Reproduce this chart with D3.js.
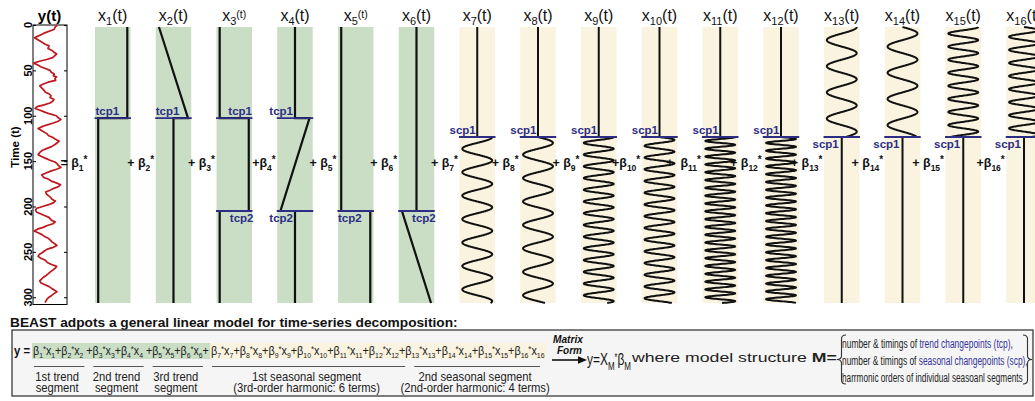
<!DOCTYPE html>
<html>
<head>
<meta charset="utf-8">
<script src="https://cdn.jsdelivr.net/npm/d3@7"></script>
<style>
html,body{margin:0;padding:0;background:#fff;}
svg{display:block;}
text{white-space:pre;}
</style>
</head>
<body>
<svg id="chart" width="1035" height="401"></svg>
<script>
// ================= DATA =================
const timeTicks = [0, 50, 100, 150, 200, 250, 300];
const obsTime = [0,2,5,9,12,14,16,18,21,23,26,28,30,32,34,36,38,40,42,44,46,48,50,52,54,56,57,59,61,63,65,67,69,72,74,76,78,80,82,84,86,88,90,92,94,96,98,100,102,104,106,108,110,112,114,116,120,122,124,126,128,130,132,134,136,138,140,143,145,147,149,151,153,155,157,159,161,163,165,168,170,172,174,176,178,180,182,184,186,188,190,192,194,196,198,200,202,204,206,208,210,212,215,217,219,221,223,225,227,229,231,233,235,237,239,241,243,245,247,249,251,253,255,257,259,262,264,266,268,270,272,274,276,278,280,282,284,286,288,290,292,294,296,298,300,302,304,306];
const obsValue = [7.2,6.6,6.2,3.2,1.5,0.3,1.2,2.1,3.4,4.7,4.4,5.6,6.2,7.0,6.4,5.8,4.0,1.8,0.1,1.3,2.2,3.6,5.0,5.4,6.3,6.0,7.0,6.5,6.7,4.4,3.0,1.9,2.4,3.2,3.6,4.8,5.3,5.0,6.2,5.8,5.0,3.2,1.1,0.5,2.0,3.4,5.0,6.9,7.4,8.3,7.5,6.0,4.2,2.6,1.4,2.3,4.1,4.6,5.9,6.7,7.8,7.1,6.4,5.5,4.1,2.7,2.0,1.4,2.4,3.7,5.0,6.5,7.2,7.6,8.3,7.0,5.2,3.8,2.5,3.1,4.6,5.4,6.9,8.2,7.6,6.2,5.0,3.7,3.9,4.5,5.2,5.6,6.6,6.0,4.6,2.8,1.0,0.6,0.9,2.1,3.3,4.7,5.4,6.6,5.9,4.2,2.9,1.2,0.2,1.4,2.6,3.3,4.5,5.1,5.6,6.4,7.1,6.0,4.2,3.3,2.6,1.7,1.4,2.2,3.5,4.3,5.5,7.0,6.6,5.9,5.1,4.5,3.8,3.0,2.4,1.9,2.2,3.3,4.6,5.4,6.3,7.1,6.2,5.5,4.7,4.1,3.8,3.5];

const basisIds = [1,2,3,4,5,6,7,8,9,10,11,12,13,14,15,16];
const T_END = 306;
const trendChangepoints = [101, 204];      // tcp1, tcp2
const seasonalChangepoints = [122];        // scp1
const tcp1 = trendChangepoints[0], tcp2 = trendChangepoints[1], scp1 = seasonalChangepoints[0];

// trend basis functions x1..x6 as [time, level] vertices (level -1..1)
const trendBasis = [
  [[0,1],[tcp1,1],[tcp1,-1],[T_END,-1]],
  [[0,-1],[tcp1,1],[tcp1,0],[T_END,0]],
  [[0,-1],[tcp1,-1],[tcp1,1],[tcp2,1],[tcp2,-1],[T_END,-1]],
  [[0,0],[tcp1,0],[tcp1,1],[tcp2,-1],[tcp2,0],[T_END,0]],
  [[0,-1],[tcp2,-1],[tcp2,1],[T_END,1]],
  [[0,0],[tcp2,0],[tcp2,-1],[T_END,1]]
];
const trendBasisCps = [[0],[0],[0,1],[0,1],[1],[1]];

// seasonal basis functions x7..x16
const seasonalOrder = [1,1,2,2,3,3,1,1,2,2];
const seasonalFunc = ["cos","sin","cos","sin","cos","sin","cos","sin","cos","sin"];
const seasonalSegment = ["after","after","after","after","after","after","before","before","before","before"];
const seasonalPeriod = {after: 26, before: 29};

const seriesTitle = "y(t)";
const axisTitle = "Time (t)";
const betaPrefix = ["= ","+ ","+ ","+","+ ","+ ","+ ","+ ","+ ","+","+  ","+ ","+ ","+ ","+ ","+"];
const eqSeparators = ["+"," +","+"," +","+","+","+","+","+","+","+","+","+","+","+",""];
const segFrom = [1,3,5,7,13];
const segTo = [2,4,6,12,16];
const segLine1 = ["1st trend","2nd trend","3rd trend","1st seasonal segment","2nd seasonal segment"];
const segLine2 = ["segment","segment","segment","(3rd-order harmonic: 6 terms)","(2nd-order harmonic: 4 terms)"];
const headline = "BEAST adpots a general linear model for time-series decomposition:";
const structLinePre = ["number & timings of ","number & timings of ","harrmonic orders of individual seasoanl segments"];
const structLineBlue = ["trend changepoints (tcp)","seasonal changepoints (scp)",""];
const structLinePost = [",",",",""];
const structLineWidth = [171, 186, 181];

// ================= STYLE / LAYOUT =================
const FONT = "'Liberation Sans', Arial, Helvetica, sans-serif";
const NAVY = "#2d2d85";
const GREEN = "#c9dec5";
const CREAM = "#f9f3df";
const RED = "#c0161e";

const svg = d3.select("#chart").style("font-family", FONT);

function addRuns(text, runs) {
  let cur = 0;
  runs.forEach(r => {
    const ts = text.append("tspan").attr("dy", (r.b - cur).toFixed(2)).attr("font-size", r.fs).text(r.s);
    if (r.fill) ts.attr("fill", r.fill);
    if (r.fw) ts.attr("font-weight", r.fw);
    if (r.fst) ts.attr("font-style", r.fst);
    cur = r.b;
  });
  return text;
}
function fit(text, left, baseline, width) {
  text.attr("x", 0).attr("y", 0).attr("text-anchor", "start");
  const w = text.node().getComputedTextLength();
  text.attr("transform", `translate(${left},${baseline}) scale(${(width / w).toFixed(4)},1)`);
}
function squeeze(text, x, baseline, sx, anchor) {
  text.attr("x", 0).attr("y", 0).attr("text-anchor", anchor)
      .attr("transform", `translate(${x},${baseline}) scale(${sx},1)`);
}

// ================= SCALES =================
const band = d3.scaleBand().domain(basisIds).range([95, 1041.75]).paddingInner(0.416).paddingOuter(0);
const tY = d3.scaleLinear().domain([0, T_END]).range([27, 303]);
const axY = d3.scaleLinear().domain([0, 308]).range([25, 304.5]);
const obsX = d3.scaleLinear().domain([0, 10]).range([33.5, 66.5]);

// ================= y(t) PANEL =================
svg.append("rect").attr("x", 33).attr("y", axY(0)).attr("width", 34).attr("height", axY(308) - axY(0))
   .attr("fill", "#fff").attr("stroke", "#000").attr("stroke-width", 1);
const gl = svg.append("g").attr("transform", "translate(33,0)")
   .call(d3.axisLeft(axY).tickValues(timeTicks).tickSizeInner(-3).tickSizeOuter(0).tickFormat(""));
gl.select(".domain").remove();
const gr = svg.append("g").attr("transform", "translate(67,0)")
   .call(d3.axisRight(axY).tickValues(timeTicks).tickSizeInner(-3).tickSizeOuter(0).tickFormat(""));
gr.select(".domain").remove();
svg.selectAll(".tick line").attr("stroke", "#000");

svg.append("g").selectAll("text").data(timeTicks).join("text")
   .attr("transform", d => `translate(31.5,${axY(d)}) rotate(-90)`)
   .attr("text-anchor", "middle").attr("font-size", 11).attr("font-weight", "bold").text(d => d);
svg.append("text").attr("transform", `translate(18.5,147) rotate(-90)`).attr("text-anchor", "middle")
   .attr("font-size", 11.5).attr("font-weight", "bold").text(axisTitle);

const obs = obsTime.map((t, i) => [t, obsValue[i]]);
svg.append("path").datum(obs)
   .attr("d", d3.line().x(d => obsX(d[1])).y(d => axY(d[0])))
   .attr("fill", "none").attr("stroke", RED).attr("stroke-width", 1.7).attr("stroke-linejoin", "round");
svg.append("text").attr("x", 49.5).attr("y", 20.5).attr("text-anchor", "middle")
   .attr("font-size", 15).attr("font-weight", "bold").text(seriesTitle);

// ================= BASIS PANELS =================
const pw = band.bandwidth();
basisIds.forEach((k, i) => {
  svg.append("rect").attr("x", band(k)).attr("y", tY(0)).attr("width", pw).attr("height", tY(T_END) - tY(0))
     .attr("fill", i < 6 ? GREEN : CREAM);
});

function levelScale(k, margin) {
  return d3.scaleLinear().domain([-1, 1]).range([band(k) + margin, band(k) + pw - margin]);
}

trendBasis.forEach((pts, i) => {
  const k = basisIds[i];
  const lx = levelScale(k, 3.2);
  svg.append("path").datum(pts).attr("d", d3.line().x(d => lx(d[1])).y(d => tY(d[0])))
     .attr("fill", "none").attr("stroke", "#111").attr("stroke-width", 2.2);
});

function seasonalPoints(j) {
  const seg = seasonalSegment[j];
  const a = seg === "after" ? scp1 : 0;
  const b = seg === "after" ? T_END : scp1;
  const P = seasonalPeriod[seg];
  const ord = seasonalOrder[j];
  const f = seasonalFunc[j] === "cos" ? Math.cos : Math.sin;
  const pts = [];
  if (a > 0) { pts.push([0, 0], [a, 0]); }
  for (let t = a; t < b; t += 0.2) pts.push([t, 0.92 * f(2 * Math.PI * ord * (t - a) / P)]);
  pts.push([b, 0.92 * f(2 * Math.PI * ord * (b - a) / P)]);
  if (b < T_END) { pts.push([b, 0], [T_END, 0]); }
  return pts;
}
seasonalOrder.forEach((o, j) => {
  const k = basisIds[j + 6];
  const lx = levelScale(k, 1.5);
  svg.append("path").datum(seasonalPoints(j)).attr("d", d3.line().x(d => lx(d[1])).y(d => tY(d[0])))
     .attr("fill", "none").attr("stroke", "#111").attr("stroke-width", 2).attr("stroke-linejoin", "round");
});

const trendLabelLayout = [
  [{side:"above", anchor:"start", ref:"left", dx:0.5}],
  [{side:"above", anchor:"start", ref:"left", dx:0}],
  [{side:"above", anchor:"end", ref:"right", dx:0}, {side:"below", anchor:"end", ref:"right", dx:1.5}],
  [{side:"above", anchor:"end", ref:"mid", dx:-2}, {side:"below", anchor:"end", ref:"mid", dx:-2}],
  [{side:"below", anchor:"start", ref:"left", dx:0}],
  [{side:"below", anchor:"end", ref:"right", dx:1.5}]
];
function cpLine(k, t) {
  svg.append("line").attr("x1", band(k) - 0.5).attr("x2", band(k) + pw + 0.5)
     .attr("y1", tY(t)).attr("y2", tY(t)).attr("stroke", NAVY).attr("stroke-width", 1.9);
}
function cpLabel(k, t, name, lay) {
  const refX = lay.ref === "left" ? band(k) : lay.ref === "right" ? band(k) + pw : band(k) + pw / 2;
  const y = lay.side === "above" ? tY(t) - 2.8 : tY(t) + 10.5;
  svg.append("text").attr("x", refX + lay.dx).attr("y", y).attr("text-anchor", lay.anchor)
     .attr("font-size", 11.5).attr("font-weight", "bold").attr("fill", NAVY).text(name);
}
trendBasisCps.forEach((cps, i) => {
  const k = basisIds[i];
  cps.forEach((c, m) => {
    cpLine(k, trendChangepoints[c]);
    cpLabel(k, trendChangepoints[c], "tcp" + (c + 1), trendLabelLayout[i][m]);
  });
});
seasonalSegment.forEach((seg, j) => {
  const k = basisIds[j + 6];
  cpLine(k, scp1);
  cpLabel(k, scp1, "scp1", seg === "after"
    ? {side:"above", anchor:"end", ref:"mid", dx:-1.5}
    : {side:"below", anchor:"end", ref:"mid", dx:-3});
});

const smallT = [false,false,true,false,true,false,false,false,false,false,false,false,false,false,false,false];
basisIds.forEach((k, i) => {
  const t = svg.append("text").attr("x", band(k) + pw / 2).attr("y", 20.5).attr("text-anchor", "middle").attr("fill", "#111");
  addRuns(t, [
    {s:"x", b:0, fs:16},
    {s:String(k), b:4, fs:11},
    smallT[i] ? {s:"(t)", b:-2.5, fs:10.5} : {s:"(t)", b:0, fs:16}
  ]);
});

basisIds.forEach((k, i) => {
  const endX = i === 0 ? band(k) - 7.5 : band(k) - 1.5;
  const t = svg.append("text").attr("x", endX).attr("y", 167).attr("text-anchor", "end")
     .attr("font-weight", "bold").attr("fill", "#111");
  addRuns(t, [
    {s:betaPrefix[i] + "β", b:0, fs:12.5},
    {s:String(k), b:3.5, fs:8.5},
    {s:"*", b:-4.5, fs:10}
  ]);
});

// ================= BOTTOM EQUATION BOX =================
const hl = svg.append("text").attr("font-size", 13.5).attr("font-weight", "bold").attr("fill", "#111").text(headline);
fit(hl, 10, 326.5, 448);

svg.append("rect").attr("x", 12).attr("y", 330).attr("width", 1021).attr("height", 66)
   .attr("fill", "#f5f5f5").attr("stroke", "#3a3a3a").attr("stroke-width", 1.3);

const eqX = d3.scaleLinear().domain([0, 6, 16]).range([32, 210, 547]);
svg.append("rect").attr("x", eqX(0)).attr("y", 343).attr("width", eqX(6) - eqX(0)).attr("height", 16).attr("fill", GREEN);
svg.append("rect").attr("x", eqX(6)).attr("y", 343).attr("width", eqX(16) - eqX(6)).attr("height", 16).attr("fill", CREAM);

const yEq = svg.append("text").attr("font-size", 13).attr("font-weight", "bold").attr("fill", "#111").text("y =");
fit(yEq, 14, 355, 16);

function eqRuns(ids) {
  const runs = [];
  ids.forEach(k => {
    runs.push({s:"β", b:0, fs:12.5}, {s:String(k), b:3, fs:8}, {s:"*", b:-3.5, fs:9},
              {s:"x", b:0, fs:12.5}, {s:String(k), b:3, fs:8});
    const sep = eqSeparators[k - 1];
    if (sep) runs.push({s:sep, b:0, fs:12.5});
  });
  return runs;
}
const eqG = svg.append("text").attr("fill", "#222");
addRuns(eqG, eqRuns(basisIds.slice(0, 6)));
fit(eqG, 33, 355, 176);
const eqS = svg.append("text").attr("fill", "#222");
addRuns(eqS, eqRuns(basisIds.slice(6)));
fit(eqS, 211, 355, 334);

segFrom.forEach((f, i) => {
  const x1 = eqX(f - 1) + 2, x2 = eqX(segTo[i]) - 7;
  svg.append("line").attr("x1", x1).attr("x2", x2).attr("y1", 366.5).attr("y2", 366.5)
     .attr("stroke", "#555").attr("stroke-width", 1.2);
  const cx = (x1 + x2) / 2 - 2;
  const a = svg.append("text").attr("font-size", 12.5).attr("fill", "#222").text(segLine1[i]);
  squeeze(a, cx, 381, 0.9, "middle");
  const b = svg.append("text").attr("font-size", 12.5).attr("fill", "#222").text(segLine2[i]);
  squeeze(b, cx, 392, 0.9, "middle");
});

const mt = svg.append("text").attr("font-size", 11).attr("font-weight", "bold").attr("font-style", "italic").attr("fill", "#111").text("Matrix");
fit(mt, 553, 343, 30);
const fm = svg.append("text").attr("font-size", 11).attr("font-weight", "bold").attr("font-style", "italic").attr("fill", "#111").text("Form");
fit(fm, 557, 353.5, 25);
svg.append("line").attr("x1", 552).attr("x2", 580).attr("y1", 360).attr("y2", 360).attr("stroke", "#111").attr("stroke-width", 1.6);
svg.append("path").attr("d", "M587,360 L578,356.3 L578,363.7 Z").attr("fill", "#111");

const ym = svg.append("text").attr("fill", "#111");
addRuns(ym, [{s:"y=X", b:0, fs:16.5}, {s:"M", b:4.5, fs:11}, {s:"*", b:-4.5, fs:10}, {s:"β", b:0, fs:16.5}, {s:"M", b:4.5, fs:11}]);
fit(ym, 587, 365, 44);

const wm = svg.append("text").attr("fill", "#222");
addRuns(wm, [{s:"where model structure ", b:0, fs:12.5}, {s:"M=", b:0, fs:12.5, fw:"bold"}]);
fit(wm, 632, 362, 205);

function brace(xTip, xSpine, xPoint, y0, y1) {
  const ym2 = (y0 + y1) / 2;
  const p = d3.path();
  p.moveTo(xTip, y0);
  p.quadraticCurveTo(xSpine, y0, xSpine, y0 + 4);
  p.lineTo(xSpine, ym2 - 4);
  p.quadraticCurveTo(xSpine, ym2, xPoint, ym2);
  p.quadraticCurveTo(xSpine, ym2, xSpine, ym2 + 4);
  p.lineTo(xSpine, y1 - 4);
  p.quadraticCurveTo(xSpine, y1, xTip, y1);
  svg.append("path").attr("d", p.toString()).attr("fill", "none").attr("stroke", "#333").attr("stroke-width", 1.1);
}
brace(846, 841.5, 837, 335, 384);
brace(1023, 1027.5, 1032, 335, 384);

const structBase = [348, 365, 382];
structLinePre.forEach((pre, i) => {
  const t = svg.append("text").attr("fill", "#222");
  const runs = [{s:pre, b:0, fs:13.5}];
  if (structLineBlue[i]) runs.push({s:structLineBlue[i], b:0, fs:13.5, fill:"#33339a"});
  if (structLinePost[i]) runs.push({s:structLinePost[i], b:0, fs:13.5});
  addRuns(t, runs);
  fit(t, 842, structBase[i], structLineWidth[i]);
});
</script>
</body>
</html>
